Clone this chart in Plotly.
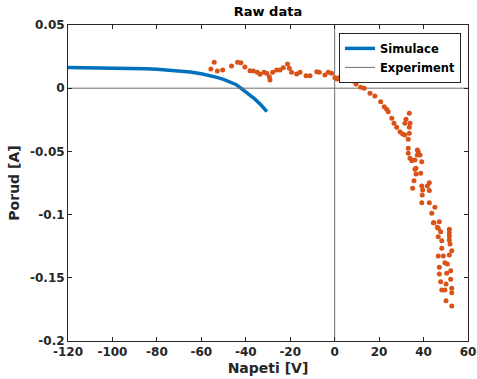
import plotly.graph_objects as go

# Simulation curve (Simulace)
sim_v = [-120, -110, -100, -95, -90, -85, -80, -75, -70, -65, -60, -56, -53, -50, -47, -44.5, -42.5, -40, -36, -33, -30.5]
sim_i = [0.0163, 0.0162, 0.0161, 0.0160, 0.0157, 0.0154, 0.0150, 0.0144, 0.0137, 0.0128, 0.0114, 0.0100, 0.0086, 0.0070, 0.0052, 0.0030, 0.0004, -0.0030, -0.0085, -0.0135, -0.0186]

# Experimental points
exp_v = [-55.7, -54.2, -52.8, -50.4, -46.4, -43.7, -42.2, -40.4, -38.1, -36.6, -34.8, -33.6, -31.8, -30.6,
         -29.4, -29.1, -27.9, -26.1, -24.6, -23.1, -21.2, -20.4, -19.4, -17.1, -15.6, -12.9, -11.1, -8.1,
         -6.9, -4.4, -2.9, -1.4, 0.1, 0.9, 1.2, 2.4, 3.6, 6.4, 8.1, 9.6, 11.7, 13.3, 15.9, 18.1, 20.7,
         22.3, 23.4, 24.1, 25.7, 26.7, 27.9, 29.4, 30.6, 31.6, 33.1, 33.6, 32.1, 31.6, 33.9, 33.6, 33.6,
         33.1, 33.1, 33.9, 34.7, 36.1, 37.2, 37.2, 36.6, 37.6, 38.4, 39.2, 36.1, 36.6, 38.7, 35.7, 35.1,
         39.2, 39.6, 41.7, 42.6, 42.6, 39.4, 39.2, 42.6, 43.7, 45.1, 44.7, 47.1, 46.6, 44.4, 46.2, 47.7,
         46.6, 48.2, 51.6, 51.6, 51.6, 51.6, 51.9, 52.7, 48.2, 46.6, 48.9, 51.6, 49.6, 50.7, 47.1, 52.2,
         50.4, 47.1, 52.2, 47.7, 50.1, 48.2, 49.6, 52.7, 52.7, 50.1, 52.7]
exp_i = [0.0152, 0.0205, 0.0136, 0.0144, 0.0176, 0.0205, 0.0202, 0.0168, 0.0138, 0.0136, 0.0126, 0.0110, 0.0126, 0.0118,
         0.0091, 0.0065, 0.0126, 0.0144, 0.0144, 0.0162, 0.0191, 0.0157, 0.0126, 0.0112, 0.0126, 0.0099, 0.0099, 0.0131,
         0.0126, 0.0104, 0.0126, 0.0118, 0.0083, 0.0078, 0.0073, 0.0086, 0.0097, 0.0086, 0.0057, 0.0033, 0.0007, -0.0001, -0.0040, -0.0062, -0.0107,
         -0.0146, -0.0167, -0.0186, -0.0238, -0.0278, -0.0309, -0.0344, -0.0362, -0.0370, -0.0404, -0.0199, -0.0246, -0.0278, -0.0278, -0.0309, -0.0357,
         -0.0475, -0.0515, -0.0555, -0.0574, -0.0568, -0.0528, -0.0489, -0.0634, -0.0502, -0.0528, -0.0581, -0.0642, -0.0679, -0.0673, -0.0732, -0.0792,
         -0.0774, -0.0805, -0.0774, -0.0748, -0.0810, -0.0845, -0.0906, -0.0906, -0.0990, -0.0942, -0.1064, -0.1056, -0.1108, -0.1064, -0.1100, -0.1135,
         -0.1175, -0.1206, -0.1116, -0.1143, -0.1169, -0.1200, -0.1233, -0.1286, -0.1267, -0.1328, -0.1328, -0.1320, -0.1380, -0.1391, -0.1417, -0.1444,
         -0.1464, -0.1470, -0.1512, -0.1531, -0.1549, -0.1597, -0.1597, -0.1583, -0.1618, -0.1681, -0.1723]

x_ticks = [-120, -100, -80, -60, -40, -20, 0, 20, 40, 60]
x_labels = ["-120", "-100", "-80", "-60", "-40", "-20", "0", "20", "40", "60"]
y_ticks = [0.05, 0, -0.05, -0.1, -0.15, -0.2]
y_labels = ["0.05", "0", "-0.05", "-0.1", "-0.15", "-0.2"]
x_range = [-120, 60]
y_range = [-0.2, 0.05]

fig = go.Figure()
fig.add_trace(go.Scatter(x=sim_v, y=sim_i, mode="lines", name="Simulace",
                         line=dict(color="#0072BD", width=3.5)))
fig.add_trace(go.Scatter(x=x_range, y=[0, 0], mode="lines", name="Experiment",
                         line=dict(color="#6e6e6e", width=1)))
fig.add_trace(go.Scatter(x=[0, 0], y=y_range, mode="lines", showlegend=False,
                         line=dict(color="#6e6e6e", width=1)))
fig.add_trace(go.Scatter(x=exp_v, y=exp_i, mode="markers", showlegend=False,
                         marker=dict(color="#D95319", size=5, line=dict(width=0))))

axis_common = dict(showgrid=False, zeroline=False, showline=True, mirror="ticks",
                   linecolor="#262626", linewidth=1, ticks="inside", ticklen=4,
                   tickcolor="#262626", automargin=False,
                   tickfont=dict(family="DejaVu Sans", size=12, color="#262626", weight="bold"))

fig.update_xaxes(range=x_range, tickvals=x_ticks, ticktext=x_labels,
                 title=dict(text="Napeti [V]", standoff=4,
                            font=dict(family="DejaVu Sans", size=14, color="#262626", weight="bold")),
                 **axis_common)
fig.update_yaxes(range=y_range, tickvals=y_ticks, ticktext=y_labels,
                 title=dict(text="Porud [A]", standoff=7,
                            font=dict(family="DejaVu Sans", size=14, color="#262626", weight="bold")),
                 **axis_common)

fig.update_layout(
    width=477, height=379,
    margin=dict(l=68, r=9, t=25, b=38),
    paper_bgcolor="white", plot_bgcolor="white",
    title=dict(text="Raw data", x=0.5, xanchor="center", xref="paper", y=0.982, yanchor="top",
               font=dict(family="DejaVu Sans", size=13, color="#000000", weight="bold")),
    legend=dict(x=0.6775, y=0.975, xanchor="left", yanchor="top",
                bgcolor="white", bordercolor="#262626", borderwidth=1,
                font=dict(family="DejaVu Sans", size=11.5, color="#000000", weight="bold"),
                tracegroupgap=0, itemwidth=30),
    showlegend=True,
)

fig.write_html("out.html")
